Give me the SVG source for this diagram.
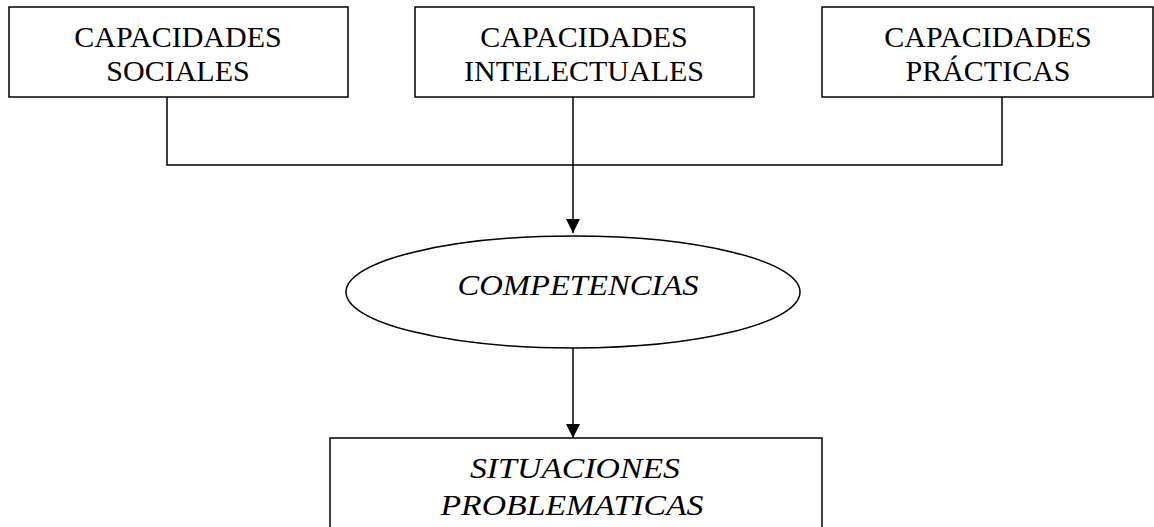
<svg xmlns="http://www.w3.org/2000/svg" width="1154" height="527" viewBox="0 0 1154 527">
<defs>
<style>
.box{fill:#fff;stroke:#000;stroke-width:1.5}
.t{font-family:"Liberation Serif","Times New Roman",serif;font-size:30px;fill:#000;text-anchor:middle}
.i{font-family:"Liberation Serif","Times New Roman",serif;font-style:italic;font-size:30px;fill:#000;text-anchor:middle}
.ln{fill:none;stroke:#000;stroke-width:1.5}
</style>
<marker id="ah" markerWidth="14" markerHeight="14" viewBox="0 0 14 14" refX="14" refY="7" orient="auto" markerUnits="userSpaceOnUse">
<path d="M0,0 L14,7 L0,14 Z" fill="#000"/>
</marker>
</defs>
<rect width="1154" height="527" fill="#fff"/>
<g id="connectors">
<polyline class="ln" points="167,97 167,165 1002,165 1002,97"/>
<line class="ln" x1="573" y1="97" x2="573" y2="233" marker-end="url(#ah)"/>
<line class="ln" x1="573" y1="348" x2="573" y2="438" marker-end="url(#ah)"/>
</g>
<g id="n-sociales">
<rect class="box" x="9" y="7" width="339" height="90"/>
<text class="t" x="178" y="47">CAPACIDADES</text>
<text class="t" x="178" y="81">SOCIALES</text>
</g>
<g id="n-intelectuales">
<rect class="box" x="415" y="7" width="339" height="90"/>
<text class="t" x="584" y="47">CAPACIDADES</text>
<text class="t" x="584" y="81">INTELECTUALES</text>
</g>
<g id="n-practicas">
<rect class="box" x="822" y="7" width="331" height="90"/>
<text class="t" x="988" y="47">CAPACIDADES</text>
<text class="t" x="988" y="81">PRÁCTICAS</text>
</g>
<g id="n-competencias">
<ellipse class="box" cx="573" cy="292" rx="227" ry="56"/>
<text class="i" x="578" y="295" textLength="241" lengthAdjust="spacingAndGlyphs">COMPETENCIAS</text>
</g>
<g id="n-situaciones">
<rect class="box" x="330" y="438" width="492" height="100"/>
<text class="i" x="575" y="478" textLength="210" lengthAdjust="spacingAndGlyphs">SITUACIONES</text>
<text class="i" x="572" y="515" textLength="263" lengthAdjust="spacingAndGlyphs">PROBLEMATICAS</text>
</g>
</svg>
